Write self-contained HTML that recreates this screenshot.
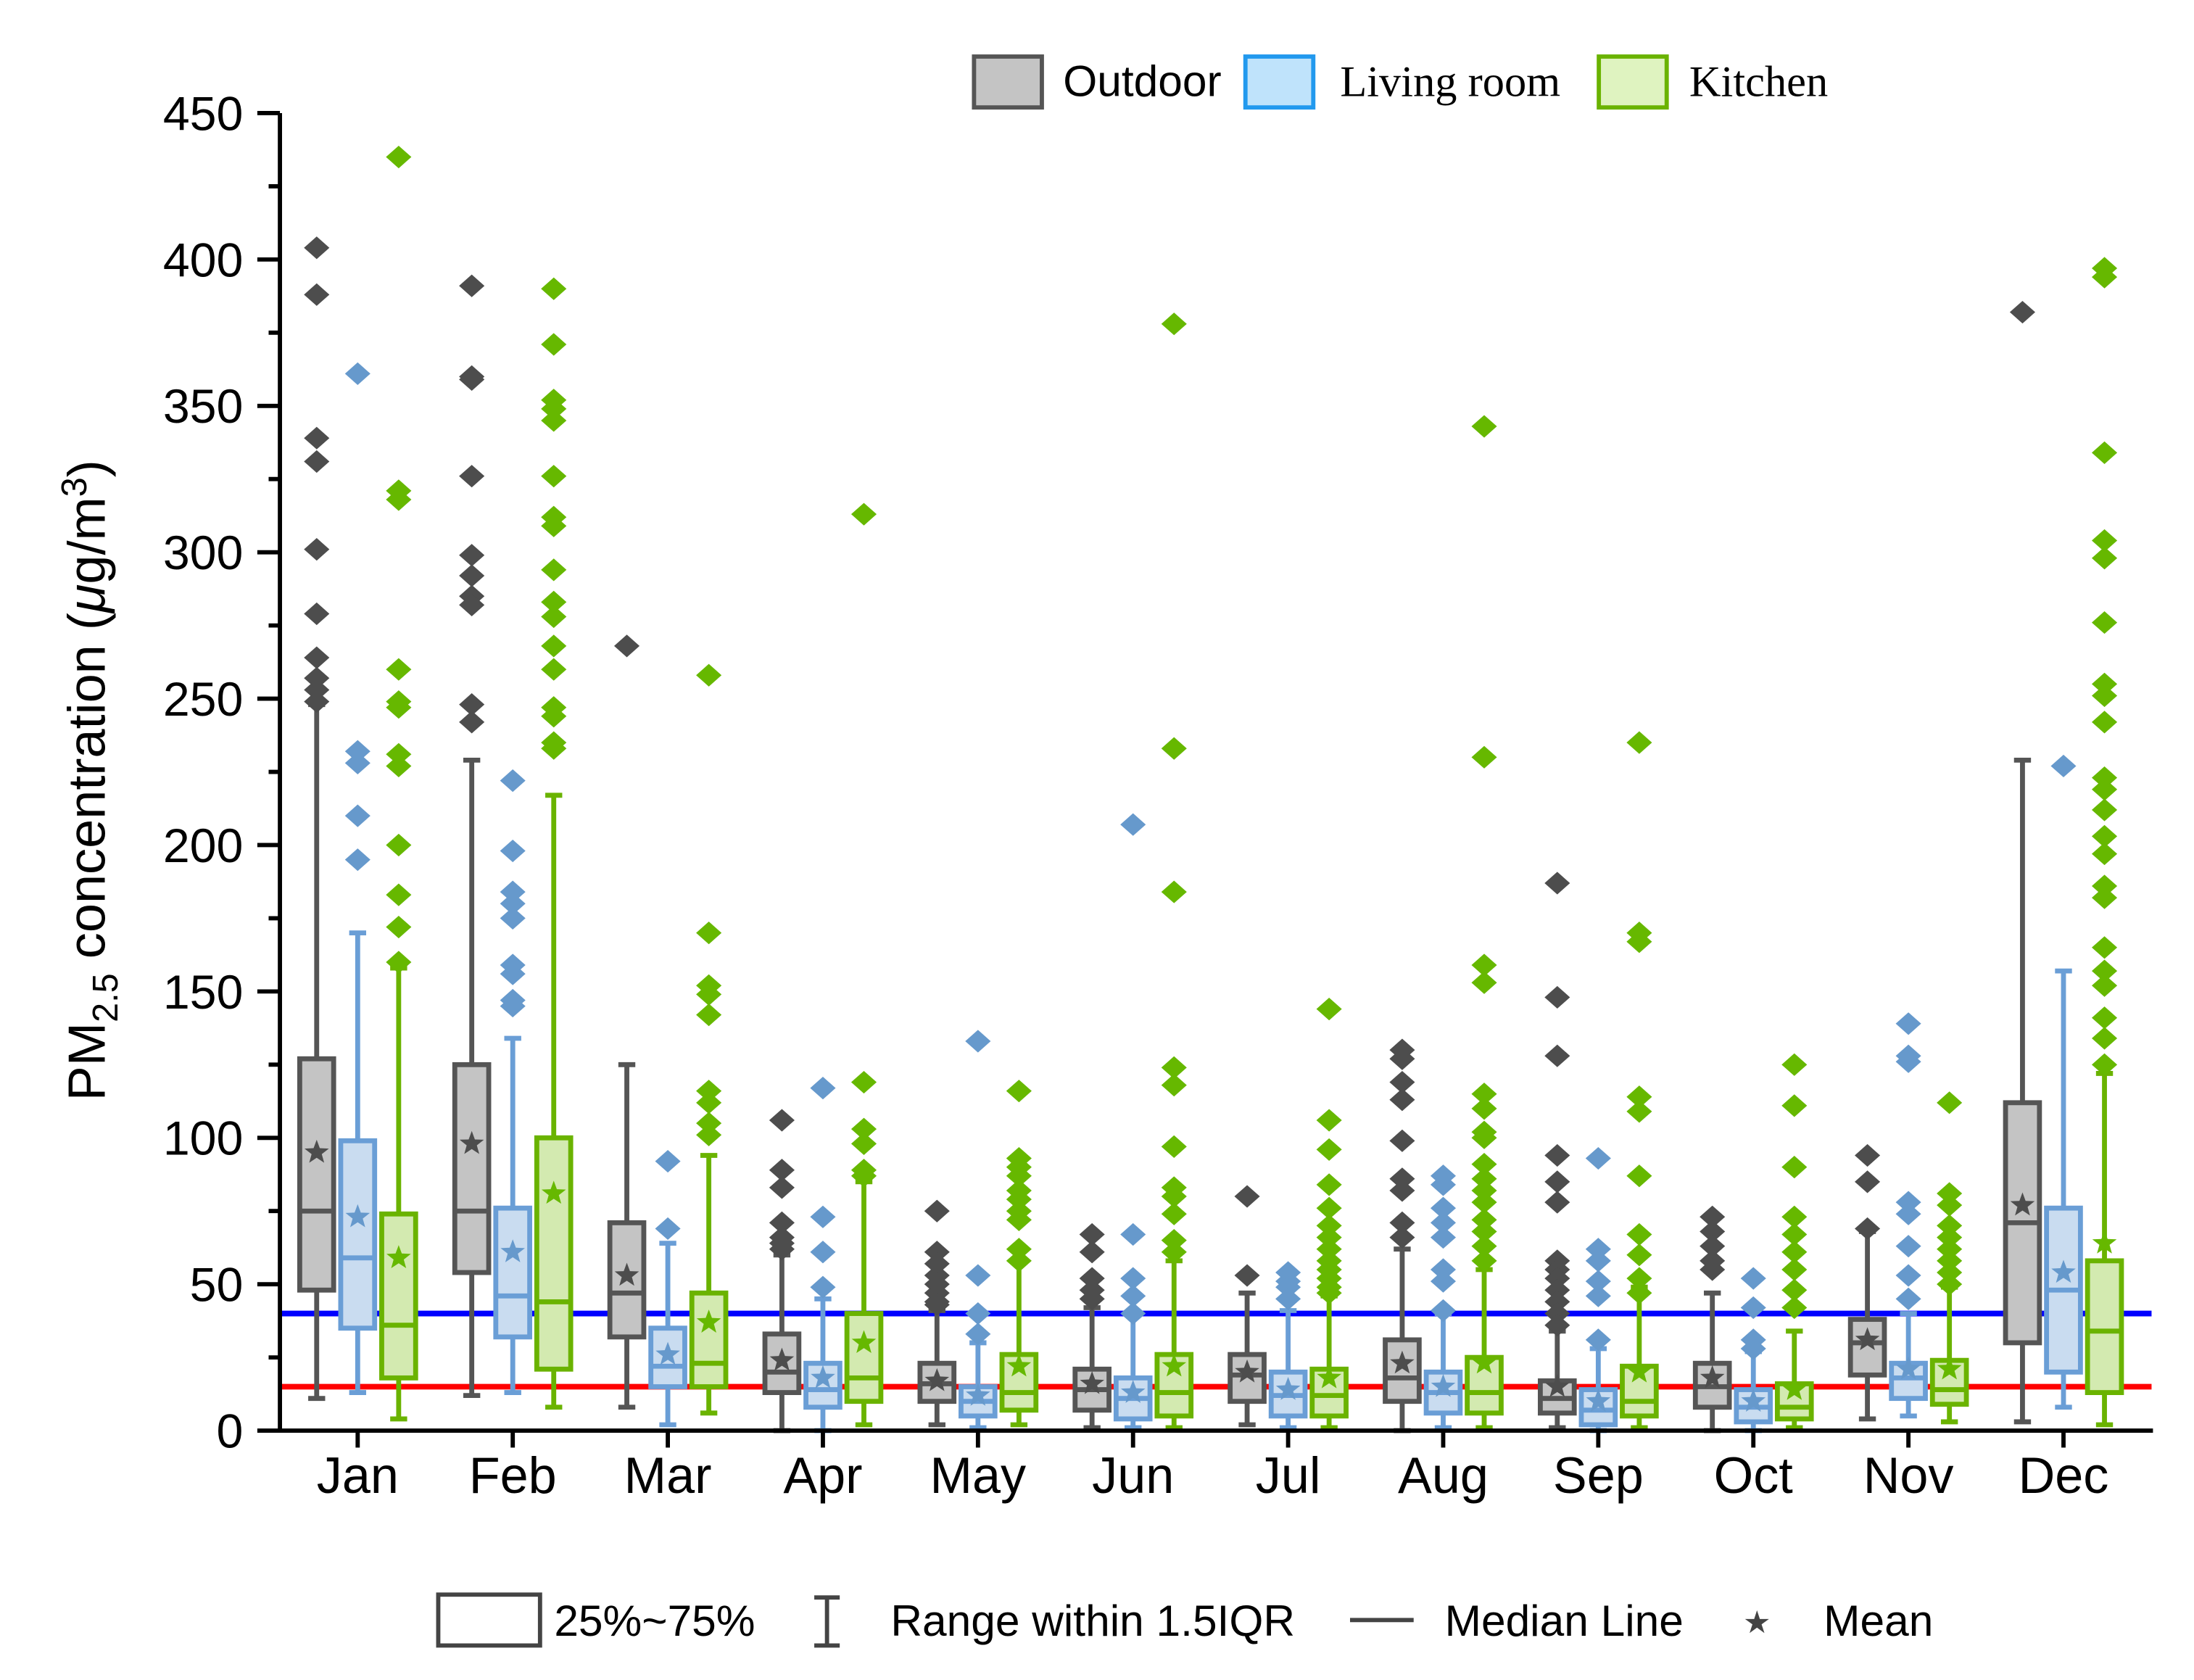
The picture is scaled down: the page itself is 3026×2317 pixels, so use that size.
<!DOCTYPE html>
<html><head><meta charset="utf-8"><style>
html,body{margin:0;padding:0;background:#fff;}
svg{display:block;font-family:"Liberation Sans",Arial,sans-serif;}
</style></head><body>
<svg id="chart" width="3026" height="2317" viewBox="0 0 1552 1188.4" xmlns="http://www.w3.org/2000/svg">
<g id="plot"></g>
<g>
  <rect x="689" y="40" width="48" height="36" fill="#c4c4c4" stroke="#555" stroke-width="3"/>
  <text x="752" y="68" font-size="31">Outdoor</text>
  <rect x="881" y="40" width="48" height="36" fill="#bfe3fb" stroke="#2299ee" stroke-width="3"/>
  <text x="948" y="68" font-size="31" font-family="Liberation Serif, serif">Living room</text>
  <rect x="1131" y="40" width="48" height="36" fill="#dff3c0" stroke="#6ab300" stroke-width="3"/>
  <text x="1195" y="68" font-size="31" font-family="Liberation Serif, serif">Kitchen</text>
</g>
<g>
  <rect x="310" y="1128" width="72" height="36" fill="#fff" stroke="#444" stroke-width="3"/>
  <text x="392" y="1157" font-size="31">25%~75%</text>
  <path d="M576 1130H594M585 1130V1164M576 1164H594" stroke="#444" stroke-width="3" fill="none"/>
  <text x="630" y="1157" font-size="31">Range within 1.5IQR</text>
  <path d="M955 1146H1000" stroke="#444" stroke-width="3"/>
  <text x="1022" y="1157" font-size="31">Median Line</text>
  <text x="1233" y="1155" font-size="22" fill="#444">★</text>
  <text x="1290" y="1157" font-size="31">Mean</text>
</g>
<text transform="translate(74,552) rotate(-90)" text-anchor="middle" font-size="37">PM<tspan font-size="25" dy="9">2.5</tspan><tspan dy="-9"> concentration (</tspan><tspan font-style="italic">μ</tspan>g/m<tspan font-size="25" dy="-13">3</tspan><tspan dy="13">)</tspan></text>
</svg>
<script>
const months=["Jan","Feb","Mar","Apr","May","Jun","Jul","Aug","Sep","Oct","Nov","Dec"];
const yTicks=[0,50,100,150,200,250,300,350,400,450];
const seriesNames=["Outdoor","Living room","Kitchen"];
// [low, q1, median, q3, high, mean] per month
const outdoorStats=[[11,48,75,127,248,95],[12,54,75,125,229,98],[8,32,47,71,125,53],[0,13,20,33,60,24],[2,10,16,23,41,17],[1,7,14,21,42,16],[2,10,19,26,47,20],[0,10,18,31,62,23],[1,6,11,17,34,15],[0,8,15,23,47,18],[4,19,30,38,68,31],[3,30,71,112,229,77]];
const livingStats=[[13,35,59,99,170,73],[13,32,46,76,134,61],[2,15,22,35,64,26],[0,8,14,23,45,18],[1,5,10,15,30,12],[1,4,11,18,40,13],[1,5,12,20,41,14],[1,6,13,20,40,15],[0,2,7,14,28,10],[0,3,8,14,27,10],[5,11,18,23,40,21],[8,20,48,76,157,54]];
const kitchenStats=[[4,18,36,74,158,59],[8,21,44,100,217,81],[6,15,23,47,94,37],[2,10,18,40,85,30],[2,7,13,26,58,22],[1,5,13,26,58,22],[1,5,12,21,46,18],[1,6,13,25,55,23],[1,5,10,22,49,20],[1,4,8,16,34,14],[3,9,14,24,49,21],[2,13,34,58,122,64]];
const outdoorOutliers=[[404,388,339,331,301,279,264,257,253,249],[391,360,359,326,299,292,285,282,248,242],[268],[106,89,83,71,66,64,62],[75,61,57,53,50,47,44,43],[67,61,52,48,45],[80,53],[130,127,119,113,99,86,82,71,66],[187,148,128,94,85,78,58,55,52,48,44,40,36],[73,68,63,58,55],[94,85,69],[382]];
const livingOutliers=[[361,232,228,210,195],[222,198,184,180,175,159,156,147,145],[92,69],[117,73,61,49],[133,53,40,33],[207,67,52,46,40],[54,51,49,45],[87,84,76,71,66,55,51,41],[93,62,58,51,46,31],[52,42,31,28],[139,128,126,78,74,63,53,45],[227]];
const kitchenOutliers=[[435,321,318,260,249,247,231,227,200,183,172,160],[390,371,352,349,345,326,312,309,294,283,278,268,260,247,244,235,233],[258,170,152,149,142,116,112,105,101],[313,119,103,98,89,87],[116,93,90,87,82,79,75,72,62,58],[378,233,184,124,118,97,83,80,74,65,61],[144,106,96,84,76,70,66,62,58,55,52,49,47],[343,230,159,153,115,110,102,100,91,86,82,78,72,68,63,58],[235,170,167,114,109,87,67,60,52,47],[125,111,90,73,67,61,55,48,42],[112,81,77,70,66,62,58,54,50],[397,394,334,304,298,276,255,251,242,223,219,212,203,197,186,182,165,157,152,141,134,125]];
const guidelineValues=[40,15];

const NS="http://www.w3.org/2000/svg";
const X0=198,X1=1522,Y0=1012,Y450=80;
const y=v=>Y0-(v/450)*(Y0-Y450);
const x=i=>253+i*109.7;
const plot=document.getElementById('plot');
function mk(tag,attrs,parent){const e=document.createElementNS(NS,tag);for(const k in attrs)e.setAttribute(k,attrs[k]);(parent||plot).appendChild(e);return e;}
function star(cx,cy,r){let p=[];for(let k=0;k<10;k++){const a=-Math.PI/2+k*Math.PI/5;const rr=k%2?r*0.42:r;p.push((cx+rr*Math.cos(a)).toFixed(1)+","+(cy+rr*Math.sin(a)).toFixed(1));}return p.join(" ");}

const gColors=["#0000ff","#ff0000"];
guidelineValues.forEach((v,i)=>{
  const l=mk('line',{x1:X0,x2:X1,y1:y(v),y2:y(v),stroke:gColors[i],'stroke-width':4});
  
  
});

const styles=[{s:"#555",f:"#c4c4c4",o:"#4d4d4d",off:-29},{s:"#6a9ed6",f:"#c9dcf0",o:"#6699cc",off:0},{s:"#6ab300",f:"#d3eab0",o:"#66b800",off:29}];
const allStats=[outdoorStats,livingStats,kitchenStats];
const allOut=[outdoorOutliers,livingOutliers,kitchenOutliers];
const keys=["outdoor","living","kitchen"];
months.forEach((m,i)=>{
  allStats.forEach((stats,si)=>{
    const st=styles[si],d=stats[i],cx=x(i)+st.off,hw=12;
    const g=mk('g',{});
    
    
    mk('line',{x1:cx,x2:cx,y1:y(d[4]),y2:y(d[0]),stroke:st.s,'stroke-width':3.5},g);
    mk('line',{x1:cx-6,x2:cx+6,y1:y(d[4]),y2:y(d[4]),stroke:st.s,'stroke-width':3.5},g);
    mk('line',{x1:cx-6,x2:cx+6,y1:y(d[0]),y2:y(d[0]),stroke:st.s,'stroke-width':3.5},g);
    mk('rect',{x:cx-hw,y:y(d[3]),width:hw*2,height:y(d[1])-y(d[3]),fill:st.f,stroke:st.s,'stroke-width':3.5},g);
    mk('line',{x1:cx-hw,x2:cx+hw,y1:y(d[2]),y2:y(d[2]),stroke:st.s,'stroke-width':3.5},g);
    mk('polygon',{points:star(cx,y(d[5]),9),fill:st.o},g);
    allOut[si][i].forEach(v=>{
      const yy=y(v);
      const p=mk('polygon',{points:`${cx},${yy-8} ${cx+9},${yy} ${cx},${yy+8} ${cx-9},${yy}`,fill:st.o},g);
      
      
    });
  });
});

const ax=mk('path',{d:`M${X0} ${Y450}V${Y0}H${X1+1}`,stroke:"#000",'stroke-width':3,fill:"none"});


for(let v=0;v<=450;v+=25){
  const major=v%50===0;
  mk('line',{x1:major?X0-16:X0-8,x2:X0,y1:y(v),y2:y(v),stroke:"#000",'stroke-width':3});
}
yTicks.forEach(v=>{
  const t=mk('text',{x:X0-26,y:y(v)+12,'text-anchor':'end','font-size':34});
  t.textContent=v;
  
  
});
months.forEach((m,i)=>{
  mk('line',{x1:x(i),x2:x(i),y1:Y0,y2:Y0+12,stroke:"#000",'stroke-width':3});
  const t=mk('text',{x:x(i),y:Y0+44,'text-anchor':'middle','font-size':36});
  t.textContent=m;
  
  
});
</script>
</body></html>
